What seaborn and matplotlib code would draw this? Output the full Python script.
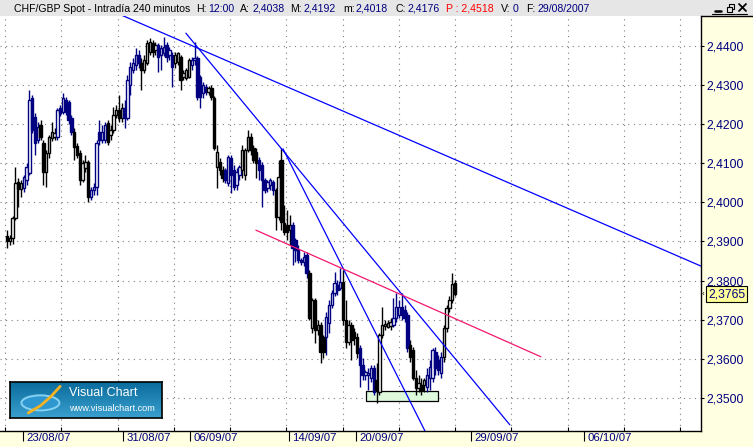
import numpy as np
import pandas as pd
import matplotlib
matplotlib.use('Agg')
import matplotlib.pyplot as plt
import matplotlib.transforms as mtransforms
from matplotlib.patches import Rectangle, Ellipse
from matplotlib.lines import Line2D
from matplotlib.colors import LinearSegmentedColormap
import seaborn as sns

sns.set_style('white')
plt.rcParams['font.family'] = ['Liberation Sans', 'DejaVu Sans']

# CHF/GBP 240-minute bars
opens = [2.3914, 2.3901, 2.3909, 2.3960, 2.4052, 2.4034, 2.4037, 2.4057, 2.4075, 2.4267,
         2.4218, 2.4160, 2.4198, 2.4152, 2.4078, 2.4126, 2.4165, 2.4167, 2.4167, 2.4241,
         2.4231, 2.4262, 2.4257, 2.4216, 2.4180, 2.4144, 2.4126, 2.4057, 2.4088, 2.4103,
         2.4014, 2.4032, 2.4039, 2.4180, 2.4160, 2.4160, 2.4203, 2.4172, 2.4185, 2.4223,
         2.4236, 2.4216, 2.4241, 2.4216, 2.4300, 2.4339, 2.4351, 2.4377, 2.4356, 2.4339,
         2.4356, 2.4385, 2.4408, 2.4390, 2.4403, 2.4377, 2.4382, 2.4403, 2.4377, 2.4377,
         2.4356, 2.4359, 2.4372, 2.4321, 2.4318, 2.4321, 2.4351, 2.4364, 2.4369, 2.4321,
         2.4280, 2.4295, 2.4282, 2.4293, 2.4267, 2.4091, 2.4103, 2.4083, 2.4083, 2.4050,
         2.4114, 2.4083, 2.4044, 2.4070, 2.4083, 2.4070, 2.4134, 2.4167, 2.4139, 2.4129,
         2.4108, 2.4096, 2.4057, 2.4037, 2.4044, 2.4052, 2.4032, 2.3963, 2.4108, 2.3947,
         2.3942, 2.3929, 2.3942, 2.3904, 2.3878, 2.3853, 2.3848, 2.3865, 2.3819, 2.3679,
         2.3750, 2.3674, 2.3687, 2.3656, 2.3656, 2.3692, 2.3738, 2.3768, 2.3789, 2.3781,
         2.3796, 2.3699, 2.3643, 2.3687, 2.3669, 2.3656, 2.3628, 2.3584, 2.3559, 2.3559,
         2.3551, 2.3576, 2.3546, 2.3515, 2.3661, 2.3684, 2.3681, 2.3684, 2.3687, 2.3704,
         2.3712, 2.3732, 2.3725, 2.3712, 2.3635, 2.3623, 2.3551, 2.3525, 2.3533, 2.3533,
         2.3528, 2.3551, 2.3551, 2.3617, 2.3597, 2.3564, 2.3605, 2.3679, 2.3730, 2.3750, 2.3794]
highs = [2.3929, 2.3917, 2.3965, 2.4091, 2.4062, 2.4057, 2.4070, 2.4101, 2.4287, 2.4275,
         2.4229, 2.4206, 2.4211, 2.4160, 2.4134, 2.4172, 2.4206, 2.4190, 2.4241, 2.4249,
         2.4280, 2.4270, 2.4262, 2.4223, 2.4190, 2.4152, 2.4134, 2.4108, 2.4121, 2.4108,
         2.4039, 2.4050, 2.4160, 2.4211, 2.4198, 2.4206, 2.4211, 2.4198, 2.4244, 2.4249,
         2.4275, 2.4254, 2.4262, 2.4326, 2.4359, 2.4369, 2.4395, 2.4390, 2.4369, 2.4377,
         2.4415, 2.4420, 2.4415, 2.4410, 2.4408, 2.4403, 2.4423, 2.4410, 2.4397, 2.4385,
         2.4385, 2.4385, 2.4377, 2.4339, 2.4344, 2.4369, 2.4372, 2.4410, 2.4374, 2.4326,
         2.4308, 2.4303, 2.4298, 2.4300, 2.4272, 2.4147, 2.4114, 2.4093, 2.4088, 2.4121,
         2.4121, 2.4096, 2.4088, 2.4096, 2.4147, 2.4139, 2.4185, 2.4177, 2.4147, 2.4139,
         2.4116, 2.4103, 2.4062, 2.4057, 2.4062, 2.4057, 2.4037, 2.4108, 2.4139, 2.3993,
         2.3981, 2.3968, 2.3950, 2.3909, 2.3891, 2.3858, 2.3873, 2.3873, 2.3827, 2.3755,
         2.3755, 2.3699, 2.3694, 2.3661, 2.3720, 2.3750, 2.3776, 2.3822, 2.3802, 2.3832,
         2.3827, 2.3750, 2.3699, 2.3694, 2.3679, 2.3666, 2.3635, 2.3602, 2.3571, 2.3576,
         2.3584, 2.3584, 2.3589, 2.3666, 2.3732, 2.3699, 2.3699, 2.3704, 2.3755, 2.3768,
         2.3750, 2.3768, 2.3738, 2.3720, 2.3648, 2.3630, 2.3571, 2.3559, 2.3551, 2.3551,
         2.3576, 2.3597, 2.3628, 2.3630, 2.3610, 2.3617, 2.3687, 2.3738, 2.3761, 2.3819, 2.3802]
lows = [2.3883, 2.3891, 2.3894, 2.3955, 2.3988, 2.4014, 2.4027, 2.4044, 2.4070, 2.4177,
        2.4121, 2.4152, 2.4160, 2.4044, 2.4039, 2.4114, 2.4157, 2.4160, 2.4160, 2.4221,
        2.4226, 2.4223, 2.4200, 2.4172, 2.4108, 2.4114, 2.4044, 2.4052, 2.4078, 2.4001,
        2.4006, 2.4019, 2.4019, 2.4147, 2.4152, 2.4152, 2.4147, 2.4160, 2.4177, 2.4216,
        2.4206, 2.4206, 2.4190, 2.4211, 2.4275, 2.4331, 2.4339, 2.4344, 2.4287, 2.4331,
        2.4351, 2.4377, 2.4372, 2.4377, 2.4333, 2.4339, 2.4374, 2.4359, 2.4364, 2.4295,
        2.4344, 2.4351, 2.4287, 2.4313, 2.4313, 2.4318, 2.4339, 2.4351, 2.4262, 2.4241,
        2.4267, 2.4275, 2.4275, 2.4262, 2.4134, 2.4037, 2.4070, 2.4052, 2.4050, 2.4042,
        2.4024, 2.4032, 2.4032, 2.4057, 2.4062, 2.4057, 2.4129, 2.4121, 2.4101, 2.4062,
        2.4057, 2.3988, 2.4024, 2.4027, 2.4032, 2.4019, 2.3929, 2.3955, 2.3929, 2.3917,
        2.3904, 2.3891, 2.3840, 2.3848, 2.3845, 2.3840, 2.3837, 2.3807, 2.3699, 2.3666,
        2.3640, 2.3661, 2.3589, 2.3602, 2.3610, 2.3666, 2.3730, 2.3761, 2.3763, 2.3776,
        2.3687, 2.3628, 2.3635, 2.3597, 2.3635, 2.3602, 2.3528, 2.3546, 2.3546, 2.3520,
        2.3541, 2.3508, 2.3487, 2.3508, 2.3653, 2.3674, 2.3679, 2.3674, 2.3681, 2.3694,
        2.3704, 2.3699, 2.3694, 2.3617, 2.3592, 2.3546, 2.3508, 2.3515, 2.3508, 2.3515,
        2.3515, 2.3520, 2.3541, 2.3559, 2.3559, 2.3551, 2.3592, 2.3669, 2.3720, 2.3743, 2.3761]
closes = [2.3901, 2.3909, 2.3960, 2.4050, 2.4034, 2.4050, 2.4065, 2.4091, 2.4262, 2.4185,
          2.4152, 2.4193, 2.4167, 2.4078, 2.4126, 2.4167, 2.4180, 2.4177, 2.4236, 2.4229,
          2.4267, 2.4231, 2.4211, 2.4180, 2.4142, 2.4121, 2.4057, 2.4101, 2.4103, 2.4014,
          2.4032, 2.4039, 2.4152, 2.4160, 2.4180, 2.4198, 2.4154, 2.4185, 2.4223, 2.4236,
          2.4216, 2.4241, 2.4216, 2.4313, 2.4346, 2.4356, 2.4377, 2.4356, 2.4339, 2.4364,
          2.4408, 2.4410, 2.4385, 2.4403, 2.4372, 2.4395, 2.4397, 2.4372, 2.4390, 2.4346,
          2.4377, 2.4382, 2.4313, 2.4331, 2.4339, 2.4364, 2.4364, 2.4369, 2.4270, 2.4270,
          2.4300, 2.4282, 2.4293, 2.4270, 2.4139, 2.4129, 2.4083, 2.4062, 2.4057, 2.4116,
          2.4070, 2.4039, 2.4078, 2.4091, 2.4134, 2.4134, 2.4167, 2.4134, 2.4108, 2.4101,
          2.4083, 2.4057, 2.4032, 2.4052, 2.4057, 2.4032, 2.3963, 2.4065, 2.3950, 2.3924,
          2.3924, 2.3942, 2.3883, 2.3878, 2.3853, 2.3848, 2.3860, 2.3819, 2.3704, 2.3750,
          2.3674, 2.3687, 2.3617, 2.3617, 2.3707, 2.3738, 2.3768, 2.3794, 2.3776, 2.3796,
          2.3699, 2.3643, 2.3687, 2.3648, 2.3653, 2.3615, 2.3584, 2.3559, 2.3566, 2.3564,
          2.3576, 2.3515, 2.3520, 2.3661, 2.3687, 2.3689, 2.3692, 2.3694, 2.3704, 2.3732,
          2.3732, 2.3712, 2.3704, 2.3628, 2.3605, 2.3551, 2.3525, 2.3538, 2.3520, 2.3546,
          2.3559, 2.3579, 2.3623, 2.3576, 2.3571, 2.3605, 2.3679, 2.3730, 2.3750, 2.3791, 2.3765]

date_labels = ['23/08/07', '31/08/07', '06/09/07', '14/09/07', '20/09/07', '29/09/07', '06/10/07']
date_bars = [5.6, 41.3, 65.4, 100.7, 124.6, 165.7, 206.0]
price_ticks = [2.35, 2.36, 2.37, 2.38, 2.39, 2.40, 2.41, 2.42, 2.43, 2.44]

# hand-drawn studies: (bars, prices) of both ends
line_long = ([40.0, 247.9], [2.4482, 2.3837])
line_mid = ([63.9, 179.6], [2.4433, 2.3431])
line_steep = ([98.6, 149.3], [2.4137, 2.3415])
line_pink = ([88.9, 190.7], [2.3929, 2.3605])
support_box = ([128.2, 153.9], [2.3492, 2.3518])

header = [(14, 'CHF/GBP Spot - Intradía 240 minutos', 'black'),
          (196, 'H:', 'black'), (208, '12:00', '#000080'),
          (240, 'A:', 'black'), (253, '2,4038', '#000080'),
          (290, 'M:', 'black'), (304, '2,4192', '#000080'),
          (343, 'm:', 'black'), (356, '2,4018', '#000080'),
          (396, 'C:', 'black'), (408, '2,4176', '#000080'),
          (446, 'P : 2,4518', '#ff0000'),
          (501, 'V:', 'black'), (513, '0', '#000080'),
          (526, 'F:', 'black'), (537, '29/08/2007', '#000080')]

NAVY = '#000080'
W, H = 753, 447


def fx(px):
    return px / W


def fy(py):
    return 1 - py / H


df = pd.DataFrame({'open': opens, 'high': highs, 'low': lows, 'close': closes})
df['bar'] = np.arange(len(df))
df['up'] = df['close'] >= df['open']
# bar colour alternates day by day (6 bars a day)
df['color'] = np.where((df['bar'] // 6) % 2 == 0, 'black', NAVY)

fig = plt.figure(figsize=(W / 100, H / 100), dpi=100)
fig.patch.set_facecolor('#FFFFE1')
fig.patches.append(Rectangle((0, fy(16)), 1, 16 / H, transform=fig.transFigure,
                             fc='#E6E6E6', ec='none', zorder=-1))

ax = fig.add_axes([0, fy(431), fx(701), (431 - 16) / H])
ax.set_facecolor('white')

# candles
ax.vlines(df['bar'], df['low'], df['high'], colors=df['color'], lw=1.0, zorder=2)
body_lo = df[['open', 'close']].min(axis=1)
body_h = (df['close'] - df['open']).abs().clip(lower=0.00005)
face = np.where(df['up'], 'white', df['color'])
ax.bar(df['bar'], body_h, bottom=body_lo, width=0.85, color=face,
       edgecolor=df['color'], lw=1.0, zorder=3)

# trend lines
for (xs, ys), c in [(line_long, '#0000ff'), (line_mid, '#0000ff'),
                    (line_steep, '#0000ff'), (line_pink, '#f0186e')]:
    sns.lineplot(x=xs, y=ys, ax=ax, color=c, lw=0.9, zorder=4)

bx, by = support_box
ax.add_patch(Rectangle((bx[0], by[0]), bx[1] - bx[0], by[1] - by[0],
                       fc='#DDFADD', ec='black', lw=0.9, zorder=1.5))

ax.set_xlim(-2.5, 247.9)
ax.set_ylim(2.3415, 2.4477)
ax.set_xlabel('')
ax.set_ylabel('')

# axes, ticks, grid
ax.yaxis.tick_right()
ax.set_yticks(price_ticks)
ax.set_yticklabels([f'{p:.4f}'.replace('.', ',') for p in price_ticks])
ax.set_xticks(date_bars)
ax.set_xticklabels(date_labels, ha='left')
ax.set_xticks(np.arange(-0.7, 247, 20.1), minor=True)
ax.grid(False)
ax.grid(axis='y', which='major', color='#7f7f7f', ls=(0, (1, 4)), lw=0.8)
ax.grid(axis='x', which='minor', color='#7f7f7f', ls=(0, (1, 4)), lw=0.8)
ax.set_axisbelow(True)

ax.tick_params(axis='y', which='both', right=True, left=False, direction='out', length=2.5,
               width=0.8, color='black', labelcolor=NAVY, labelsize=8.7, pad=1.5)
ax.tick_params(axis='x', which='major', bottom=True, direction='out', length=7.5, width=0.8,
               color='black', labelcolor=NAVY, labelsize=8.2, pad=-6)
ax.tick_params(axis='x', which='minor', bottom=True, direction='in', length=3, width=0.8,
               color='black')
shift = mtransforms.ScaledTranslation(2.5 / 72, 0, fig.dpi_scale_trans)
for lab in ax.get_xticklabels():
    lab.set_transform(lab.get_transform() + shift)

for s in ['left', 'top']:
    ax.spines[s].set_visible(False)
for s in ['bottom', 'right']:
    ax.spines[s].set_visible(True)
    ax.spines[s].set_color('black')
    ax.spines[s].set_linewidth(1.0)

# last price flag
last = closes[-1]
trans = mtransforms.blended_transform_factory(ax.transAxes, ax.transData)
ax.text(1.0, last, f'{last:.4f}'.replace('.', ','),
        transform=trans + mtransforms.ScaledTranslation(5 / 72, 0, fig.dpi_scale_trans),
        ha='left', va='center', fontsize=8.7, color=NAVY, clip_on=False, zorder=10,
        bbox=dict(boxstyle='square,pad=0.18', fc='#FFFF99', ec='black', lw=0.8))
ax.text(1.0, last, '‹', transform=trans + mtransforms.ScaledTranslation(0.5 / 72, 0, fig.dpi_scale_trans),
        ha='left', va='center', fontsize=6, color='black', clip_on=False, zorder=10)

fig.add_artist(Line2D([fx(701), 1], [fy(16), fy(16)], color='black', lw=1))

# header bar
for x, t, c in header:
    fig.text(fx(x), fy(8.5), t, color=c, fontsize=7.6, va='center', ha='left')

# window buttons
fig.add_artist(Line2D([fx(715), fx(721)], [fy(11), fy(11)], color='black', lw=1.8))
fig.patches.append(Rectangle((fx(729), fy(9)), fx(5), 5 / H, transform=fig.transFigure,
                             fc='none', ec='black', lw=0.8))
fig.patches.append(Rectangle((fx(727), fy(12)), fx(5), 5 / H, transform=fig.transFigure,
                             fc='#E6E6E6', ec='black', lw=0.8))
fig.add_artist(Line2D([fx(739), fx(746)], [fy(4), fy(11)], color='black', lw=1.3))
fig.add_artist(Line2D([fx(739), fx(746)], [fy(11), fy(4)], color='black', lw=1.3))
for x0 in [712, 724, 736]:
    fig.add_artist(Line2D([fx(x0), fx(x0 + 11)], [fy(14), fy(14)], color='black', lw=0.8))

# Visual Chart logo
lax = fig.add_axes([fx(10), fy(418), fx(152), 36 / H])
grad = np.linspace(0, 1, 60).reshape(-1, 1)
lax.imshow(grad, aspect='auto', extent=[0, 1, 0, 1],
           cmap=LinearSegmentedColormap.from_list('vc', ['#0a6c9c', '#3aa0cf']))
lax.add_patch(Ellipse((0.2, 0.42), 0.25, 0.42, fc='#2f97cf', ec='#86d2f4', lw=1.4))
lax.plot([0.12, 0.2, 0.27, 0.33], [0.14, 0.34, 0.6, 0.88], color='#f5b324', lw=2)
lax.text(0.39, 0.70, 'Visual Chart', color='white', fontsize=9, va='center', ha='left')
lax.text(0.39, 0.27, 'www.visualchart.com', color='white', fontsize=6.6, va='center', ha='left')
lax.set_xlim(0, 1)
lax.set_ylim(0, 1)
lax.set_xticks([])
lax.set_yticks([])
for s in lax.spines.values():
    s.set_visible(True)
    s.set_color('black')
    s.set_linewidth(1.2)

fig.savefig('out.png', dpi=100, facecolor=fig.get_facecolor())
